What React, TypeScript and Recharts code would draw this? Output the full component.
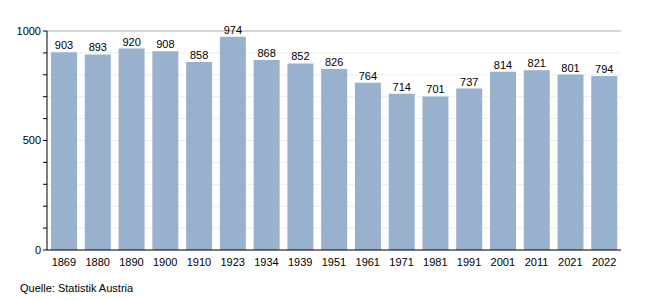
import { BarChart, Bar, XAxis, YAxis, CartesianGrid, ReferenceLine, LabelList } from 'recharts';

const years = ['1869', '1880', '1890', '1900', '1910', '1923', '1934', '1939', '1951', '1961', '1971', '1981', '1991', '2001', '2011', '2021', '2022'];
const values = [903, 893, 920, 908, 858, 974, 868, 852, 826, 764, 714, 701, 737, 814, 821, 801, 794];
const yTicks = [0, 100, 200, 300, 400, 500, 600, 700, 800, 900, 1000];
const yLabels = [0, 500, 1000];

const data = years.map((year, i) => ({ year, value: values[i] }));

const font = '"Liberation Sans", Arial, sans-serif';

export default function App() {
  return (
    <div style={{ position: 'absolute', left: 0, top: 0, width: 650, height: 300, background: '#fff', fontFamily: font }}>
      <BarChart
        width={650}
        height={300}
        data={data}
        margin={{ top: 31, right: 29, bottom: 30, left: 0 }}
        barCategoryGap="12%"
      >
        <CartesianGrid vertical={false} stroke="#ededed" />
        <ReferenceLine y={1000} stroke="#b8b8b8" />
        <XAxis
          dataKey="year"
          stroke="#000"
          tickLine={false}
          tick={{ fill: '#000', fontSize: 11, fontFamily: font }}
          tickMargin={2}
          height={20}
        />
        <YAxis
          domain={[0, 1000]}
          ticks={yTicks}
          interval={0}
          width={47}
          stroke="#000"
          tickSize={4}
          tickFormatter={(v: number) => (yLabels.includes(v) ? String(v) : '')}
          tick={{ fill: '#000', fontSize: 11, fontFamily: font }}
        />
        <Bar dataKey="value" fill="#98b1cc" isAnimationActive={false}>
          <LabelList dataKey="value" position="top" offset={3} fill="#000" fontSize={11} fontFamily={font} />
        </Bar>
      </BarChart>
      <div style={{ position: 'absolute', left: 20, top: 282, fontSize: 11, color: '#000' }}>Quelle: Statistik Austria</div>
    </div>
  );
}
